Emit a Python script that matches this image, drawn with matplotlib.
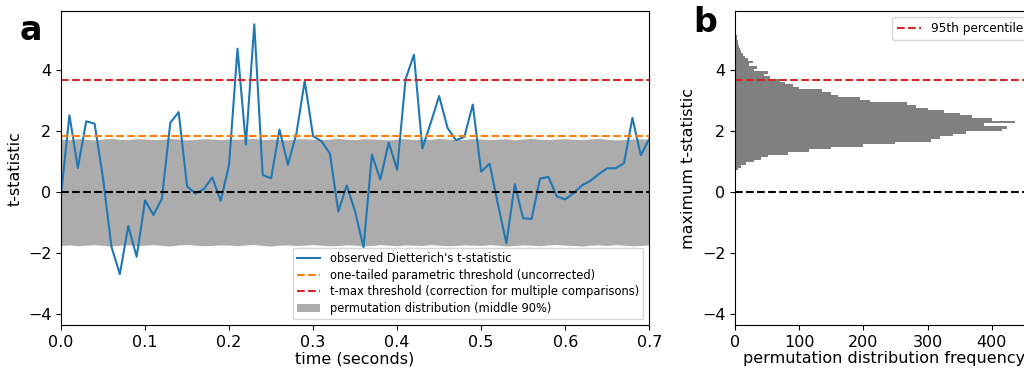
import numpy as np
import matplotlib

matplotlib.use("Agg")
import matplotlib.pyplot as plt

# Observed t-statistic over time (0.00 .. 0.70 s, step 0.01)
time_s = [round(0.01 * i, 2) for i in range(71)]
t_obs = [-0.10, 2.52, 0.79, 2.32, 2.24, 0.45, -1.79, -2.69, -1.11, -2.12,
         -0.27, -0.75, -0.22, 2.27, 2.62, 0.19, -0.05, 0.10, 0.48, -0.29,
         0.90, 4.70, 1.56, 5.50, 0.56, 0.45, 2.05, 0.90, 1.90, 3.64,
         1.83, 1.67, 1.26, -0.64, 0.22, -0.64, -1.81, 1.23, 0.41, 1.63,
         0.73, 3.70, 4.50, 1.43, 2.27, 3.15, 2.10, 1.70, 1.81, 2.87,
         0.67, 0.93, -0.40, -1.68, 0.26, -0.86, -0.88, 0.44, 0.50, -0.14,
         -0.24, -0.03, 0.22, 0.37, 0.59, 0.78, 0.78, 0.95, 2.43, 1.21,
         1.74]

# Permutation distribution, middle 90% band
band_hi = [1.74, 1.72, 1.75, 1.73, 1.71, 1.74, 1.76, 1.73, 1.72, 1.75,
           1.74, 1.72, 1.73, 1.76, 1.74, 1.71, 1.73, 1.75, 1.74, 1.72,
           1.74, 1.73, 1.75, 1.76, 1.72, 1.74, 1.73, 1.71, 1.74, 1.75,
           1.73, 1.72, 1.74, 1.76, 1.73, 1.72, 1.75, 1.74, 1.73, 1.71,
           1.74, 1.75, 1.72, 1.74, 1.73, 1.76, 1.74, 1.72, 1.73, 1.75,
           1.74, 1.72, 1.73, 1.75, 1.71, 1.74, 1.76, 1.73, 1.72, 1.74,
           1.75, 1.73, 1.72, 1.74, 1.76, 1.73, 1.71, 1.72, 1.74, 1.75,
           1.73]
band_lo = [-1.75, -1.73, -1.76, -1.74, -1.72, -1.75, -1.77, -1.74, -1.73, -1.76,
           -1.74, -1.72, -1.75, -1.77, -1.73, -1.72, -1.74, -1.76, -1.75, -1.73,
           -1.74, -1.76, -1.73, -1.72, -1.75, -1.77, -1.74, -1.73, -1.75, -1.74,
           -1.72, -1.74, -1.76, -1.75, -1.73, -1.74, -1.77, -1.75, -1.72, -1.74,
           -1.76, -1.73, -1.74, -1.75, -1.72, -1.74, -1.76, -1.75, -1.73, -1.74,
           -1.75, -1.72, -1.74, -1.77, -1.75, -1.73, -1.74, -1.76, -1.73, -1.72,
           -1.74, -1.75, -1.77, -1.74, -1.73, -1.75, -1.72, -1.74, -1.76, -1.75,
           -1.73]

thr_param = 1.83
thr_tmax = 3.66

# Histogram of the permutation maximum t-statistic
hist_lo, hist_hi = 0.55, 5.92
hist_counts = [1, 2, 5, 9, 17, 30, 40, 52, 82, 115,
               150, 200, 250, 305, 320, 340, 360, 416, 424, 388,
               436, 400, 370, 350, 325, 300, 282, 268, 210, 195,
               160, 150, 135, 100, 90, 78, 70, 55, 45, 52,
               30, 35, 22, 28, 20, 15, 12, 10, 8, 6,
               5, 4, 3, 3, 2, 2, 1, 1, 1, 0,
               1, 0, 1]

fig = plt.figure(figsize=(10.24, 3.72), dpi=100)
ax1 = fig.add_axes([0.0596, 0.126, 0.5744, 0.844])
ax2 = fig.add_axes([0.7178, 0.126, 0.292, 0.844])

ylim = (-4.36, 5.93)
fs = 11.5

# Panel a
band = ax1.fill_between(time_s, band_lo, band_hi, color='gray', alpha=0.65,
                        linewidth=0,
                        label='permutation distribution (middle 90%)')
line, = ax1.plot(time_s, t_obs, color='tab:blue', lw=1.5,
                 label="observed Dietterich's t-statistic")
h_par = ax1.axhline(thr_param, color='tab:orange', ls='--', lw=1.5,
                    label='one-tailed parametric threshold (uncorrected)')
h_max = ax1.axhline(thr_tmax, color='tab:red', ls='--', lw=1.5,
                    label='t-max threshold (correction for multiple comparisons)')
ax1.axhline(0, color='black', ls='--', lw=1.5)
ax1.set_xlim(0, 0.7)
ax1.set_ylim(*ylim)
ax1.set_xlabel('time (seconds)', fontsize=fs, labelpad=1)
ax1.set_ylabel('t-statistic', fontsize=fs)
ax1.tick_params(labelsize=fs)
ax1.legend(handles=[line, h_par, h_max, band], loc='lower right',
           fontsize=8.3, labelspacing=0.3)

# Panel b
n_bins = len(hist_counts)
width = (hist_hi - hist_lo) / n_bins
centers = hist_lo + width * (np.arange(n_bins) + 0.5)
ax2.barh(centers, hist_counts, height=width, color='gray')
ax2.axhline(thr_tmax, color='tab:red', ls='--', lw=1.5, label='95th percentile')
ax2.axhline(0, color='black', ls='--', lw=1.5)
ax2.set_xlim(0, 466)
ax2.set_ylim(*ylim)
ax2.set_xlabel('permutation distribution frequency', fontsize=fs, labelpad=1)
ax2.set_ylabel('maximum t-statistic', fontsize=fs)
ax2.tick_params(labelsize=fs)
ax2.legend(loc='upper right', fontsize=8.7)

fig.text(0.0195, 0.892, 'a', fontsize=24, fontweight='bold')
fig.text(0.677, 0.914, 'b', fontsize=24, fontweight='bold')

fig.savefig('out.png', dpi=100)
